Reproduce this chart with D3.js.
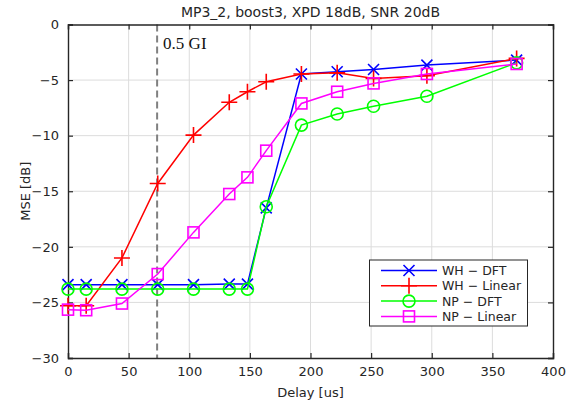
<!DOCTYPE html>
<html>
<head>
<meta charset="utf-8">
<script src="https://cdn.jsdelivr.net/npm/d3@7"></script>
<style>
  body { margin: 0; background: #fff; }
  svg text { font-family: "DejaVu Sans", sans-serif; fill: #262626; }
</style>
</head>
<body>
<div id="chart"></div>
<script>
// delay [us] per sample
const delays = [0, 15, 44.5, 74, 103.5, 133, 148, 163.5, 192.5, 222, 252, 296, 370];
// MSE [dB]
const whDft = [-23.4, -23.4, -23.4, -23.4, -23.4, -23.35, -23.35, -16.5, -4.45, -4.25, -4.05, -3.65, -3.2];
const whLin = [-25.3, -25.3, -21.0, -14.3, -9.95, -7.0, -6.05, -5.15, -4.45, -4.35, -4.85, -4.6, -3.05];
const npDft = [-23.8, -23.8, -23.8, -23.8, -23.8, -23.8, -23.8, -16.4, -9.05, -8.05, -7.35, -6.45, -3.45];
const npLin = [-25.65, -25.7, -25.1, -22.45, -18.7, -15.25, -13.75, -11.35, -7.1, -6.05, -5.3, -4.45, -3.55];
const seriesNames = ["WH − DFT", "WH − Linear", "NP − DFT", "NP − Linear"];
const xTicks = [0, 50, 100, 150, 200, 250, 300, 350, 400];
const yTicks = [0, -5, -10, -15, -20, -25, -30];
const giDelay = 73.5;

const W = 575, H = 404;
const margin = { top: 24.5, right: 22, bottom: 46, left: 68 };

const svg = d3.select("#chart").append("svg")
  .attr("width", W).attr("height", H);

const x = d3.scaleLinear().domain([0, 400]).range([margin.left, W - margin.right]);
const y = d3.scaleLinear().domain([-30, 0]).range([H - margin.bottom, margin.top]);

// grid
const grid = svg.append("g");
grid.selectAll("line.gx").data(xTicks.slice(1, -1)).join("line")
  .attr("x1", (d) => x(d)).attr("x2", (d) => x(d))
  .attr("y1", y(0)).attr("y2", y(-30))
  .attr("stroke", "#dcdcdc").attr("stroke-width", 1);
grid.selectAll("line.gy").data(yTicks.slice(1, -1)).join("line")
  .attr("y1", (d) => y(d)).attr("y2", (d) => y(d))
  .attr("x1", x(0)).attr("x2", x(400))
  .attr("stroke", "#dcdcdc").attr("stroke-width", 1);

// 0.5 GI marker
svg.append("line")
  .attr("x1", x(giDelay)).attr("x2", x(giDelay))
  .attr("y1", y(0)).attr("y2", y(-30))
  .attr("stroke", "#808080").attr("stroke-width", 2)
  .attr("stroke-dasharray", "7,4");
svg.append("text")
  .attr("x", x(giDelay) + 6).attr("y", y(-1.7) + 6)
  .style("font-family", "'Liberation Serif', 'Times New Roman', serif")
  .style("font-size", "17px").style("fill", "#111")
  .text("0.5 GI");

// axes
const fmt = (d) => d < 0 ? "−" + Math.abs(d) : String(d);
const axB = svg.append("g").attr("transform", `translate(0,${y(-30)})`)
  .call(d3.axisBottom(x).tickValues(xTicks).tickSize(-5).tickPadding(9).tickFormat(fmt));
const axT = svg.append("g").attr("transform", `translate(0,${y(0)})`)
  .call(d3.axisTop(x).tickValues(xTicks).tickSize(-5).tickFormat(""));
const axL = svg.append("g").attr("transform", `translate(${x(0)},0)`)
  .call(d3.axisLeft(y).tickValues(yTicks).tickSize(-5).tickPadding(9).tickFormat(fmt));
const axR = svg.append("g").attr("transform", `translate(${x(400)},0)`)
  .call(d3.axisRight(y).tickValues(yTicks).tickSize(-5).tickFormat(""));
[axB, axT, axL, axR].forEach((a) => {
  a.selectAll("path").attr("stroke", "#262626").attr("stroke-width", 1.4);
  a.selectAll("line").attr("stroke", "#262626").attr("stroke-width", 1.2);
  a.selectAll("text").style("font-size", "13px").style("fill", "#262626")
    .style("font-family", "'DejaVu Sans', sans-serif");
});

// series
const series = [
  { name: seriesNames[0], vals: whDft, color: "#0000ff", marker: "x" },
  { name: seriesNames[1], vals: whLin, color: "#ff0000", marker: "+" },
  { name: seriesNames[2], vals: npDft, color: "#00ff00", marker: "o" },
  { name: seriesNames[3], vals: npLin, color: "#ff00ff", marker: "s" },
];

function drawMarker(g, type, cx, cy, color) {
  if (type === "x") {
    const r = 5.5;
    g.append("path").attr("d", `M${cx - r},${cy - r}L${cx + r},${cy + r}M${cx - r},${cy + r}L${cx + r},${cy - r}`)
      .attr("stroke", color).attr("stroke-width", 1.6).attr("fill", "none");
  } else if (type === "+") {
    const r = 8;
    g.append("path").attr("d", `M${cx - r},${cy}L${cx + r},${cy}M${cx},${cy - r}L${cx},${cy + r}`)
      .attr("stroke", color).attr("stroke-width", 1.6).attr("fill", "none");
  } else if (type === "o") {
    g.append("circle").attr("cx", cx).attr("cy", cy).attr("r", 6)
      .attr("stroke", color).attr("stroke-width", 1.6).attr("fill", "none");
  } else {
    const r = 5.5;
    g.append("rect").attr("x", cx - r).attr("y", cy - r).attr("width", 2 * r).attr("height", 2 * r)
      .attr("stroke", color).attr("stroke-width", 1.6).attr("fill", "none");
  }
}

const line = d3.line().x((d) => x(d[0])).y((d) => y(d[1]));
series.forEach((s) => {
  const g = svg.append("g");
  const pts = delays.map((d, i) => [d, s.vals[i]]);
  g.append("path").datum(pts).attr("d", line)
    .attr("fill", "none").attr("stroke", s.color).attr("stroke-width", 1.5);
  pts.forEach((p) => drawMarker(g, s.marker, x(p[0]), y(p[1]), s.color));
});

// legend
const lg = svg.append("g").attr("transform", "translate(369.5,260)");
lg.append("rect").attr("width", 158).attr("height", 66)
  .attr("fill", "#fff").attr("stroke", "#262626").attr("stroke-width", 1);
series.forEach((s, i) => {
  const yy = 10.5 + i * 15.3;
  lg.append("line").attr("x1", 11.5).attr("x2", 67.5).attr("y1", yy).attr("y2", yy)
    .attr("stroke", s.color).attr("stroke-width", 1.5);
  drawMarker(lg, s.marker, 39.5, yy, s.color);
  lg.append("text").attr("x", 72.5).attr("y", yy + 4.5)
    .style("font-size", "12.5px").text(s.name);
});

// title and axis labels
svg.append("text").attr("x", (x(0) + x(400)) / 2).attr("y", 17)
  .attr("text-anchor", "middle").style("font-size", "14px")
  .text("MP3_2, boost3, XPD 18dB, SNR 20dB");
svg.append("text").attr("x", (x(0) + x(400)) / 2).attr("y", 397)
  .attr("text-anchor", "middle").style("font-size", "13px")
  .text("Delay [us]");
svg.append("text").attr("transform", "rotate(-90)")
  .attr("x", -(y(0) + y(-30)) / 2).attr("y", 30)
  .attr("text-anchor", "middle").style("font-size", "13px")
  .text("MSE [dB]");
</script>
</body>
</html>
